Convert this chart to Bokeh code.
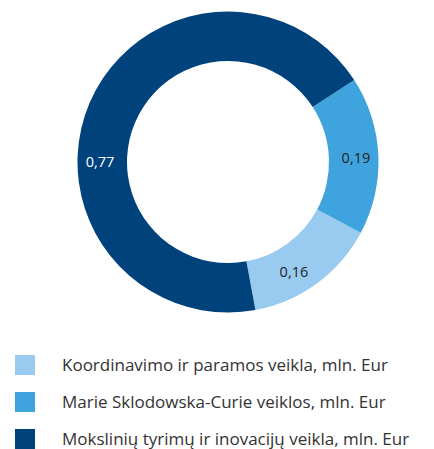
import math
from bokeh.plotting import figure
from bokeh.models import Range1d, Legend, LegendItem
from bokeh.core.properties import value
from bokeh.embed import file_html
from bokeh.resources import INLINE

# ---- data ----
categories = ["Koordinavimo ir paramos veikla, mln. Eur",
              "Marie Sklodowska-Curie veiklos, mln. Eur",
              "Mokslinių tyrimų ir inovacijų veikla, mln. Eur"]
values = [0.16, 0.19, 0.77]
labels = ["0,16", "0,19", "0,77"]

# ---- style ----
colors = ["#99CBF0", "#3FA3DE", "#00427B"]
label_colors = ["#1e1e1e", "#1e1e1e", "#ffffff"]
label_deg = [-59, 2, 180]
start_deg = -79.5
FONT = "Open Sans"

W, H = 434, 449
p = figure(width=W, height=H, output_backend="svg", toolbar_location=None,
           x_range=Range1d(0, W), y_range=Range1d(0, H),
           min_border=0, outline_line_color=None)
p.axis.visible = False
p.grid.visible = False
p.background_fill_color = "white"
p.border_fill_color = "white"

cx, cy = 227.5, H - 161.5
r_out, r_in = 150.5, 101

total = sum(values)
starts, ends = [], []
a = math.radians(start_deg)
for v in values:
    starts.append(a)
    a += v / total * 2 * math.pi
    ends.append(a)

renderers = []
for i in range(3):
    r = p.annular_wedge(x=cx, y=cy, inner_radius=r_in, outer_radius=r_out,
                        start_angle=starts[i], end_angle=ends[i],
                        fill_color=colors[i], line_color=None)
    renderers.append(r)

r_lab = 128
lx = [cx + r_lab * math.cos(math.radians(d)) for d in label_deg]
ly = [cy + r_lab * math.sin(math.radians(d)) for d in label_deg]
p.text(x=lx, y=ly, text=labels, text_color=label_colors,
       text_font=value(FONT), text_font_size="14.5px",
       text_align="center", text_baseline="middle")

legend = Legend(items=[LegendItem(label=categories[i], renderers=[renderers[i]]) for i in range(3)],
                location=(12, -2), orientation="vertical",
                glyph_width=25, glyph_height=25, label_height=25,
                spacing=12, label_standoff=25, padding=0, margin=0,
                border_line_color=None, background_fill_alpha=0,
                label_text_font=FONT, label_text_font_size="17px",
                label_text_color="#333333", label_text_baseline="middle")
p.add_layout(legend, "center")

open("out.html", "w").write(file_html(p, INLINE))
